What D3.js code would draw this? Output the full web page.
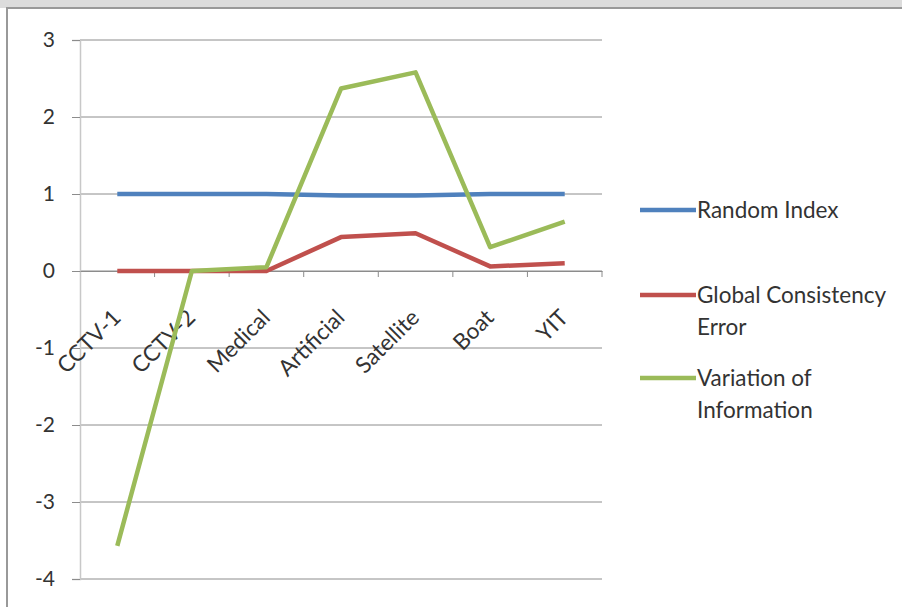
<!DOCTYPE html>
<html>
<head>
<meta charset="utf-8">
<script src="https://cdn.jsdelivr.net/npm/d3@7"></script>
<style>
  body { margin: 0; background: #fff; }
  svg text { font-family: Lato, "Open Sans", sans-serif; fill: #333; }
</style>
</head>
<body>
<div id="chart"></div>
<script>
// categories and series
var categories = ["CCTV-1", "CCTV-2", "Medical", "Artificial", "Satellite", "Boat", "YIT"];
var randomIndex = [1.0, 1.0, 1.0, 0.98, 0.98, 1.0, 1.0];
var globalError = [0.0, 0.0, 0.0, 0.44, 0.49, 0.06, 0.1];
var variationInfo = [-3.57, 0.0, 0.05, 2.37, 2.58, 0.31, 0.64];
var yTicks = [3, 2, 1, 0, -1, -2, -3, -4];

var seriesNames = ["Random Index", "Global Consistency Error", "Variation of Information"];
var legendLines = [["Random Index"], ["Global Consistency", "Error"], ["Variation of", "Information"]];
var colors = ["#4f81bd", "#c0504d", "#9bbb59"];

var width = 902, height = 607;
var margin = {top: 40, right: 300, bottom: 28, left: 80};

var svg = d3.select("#chart")
    .append("svg")
    .attr("width", width)
    .attr("height", height);

// gray strip and frame like the screenshot
svg.append("rect")
    .attr("x", 0).attr("y", 0)
    .attr("width", width).attr("height", 8)
    .attr("fill", "#dcdcdc");
svg.append("path")
    .attr("d", "M7," + height + "V8H" + width)
    .attr("fill", "none")
    .attr("stroke", "#999")
    .attr("stroke-width", 2);

var x = d3.scaleBand()
    .domain(categories)
    .range([margin.left, width - margin.right])
    .padding(0);

var y = d3.scaleLinear()
    .domain([-4, 3])
    .range([height - margin.bottom, margin.top]);

// horizontal gridlines
svg.append("g")
    .selectAll("line")
    .data(yTicks)
    .enter().append("line")
    .attr("x1", margin.left)
    .attr("x2", width - margin.right)
    .attr("y1", function(d) { return y(d); })
    .attr("y2", function(d) { return y(d); })
    .attr("stroke", "#8c8c8c")
    .attr("stroke-width", 1);

// y axis
var yAxis = d3.axisLeft(y)
    .tickValues(yTicks)
    .tickSize(8)
    .tickPadding(17)
    .tickFormat(function(d) { return String(d); });

var gy = svg.append("g")
    .attr("transform", "translate(" + margin.left + ",0)")
    .call(yAxis);
gy.select(".domain").attr("stroke", "#c8c8c8").attr("stroke-width", 1.5);
gy.selectAll(".tick line").attr("stroke", "#8c8c8c");
gy.selectAll("text")
    .style("font-size", "21px")
    .style("fill", "#333");

// x axis at zero
var xAxis = d3.axisBottom(x)
    .tickSize(0)
    .tickFormat("");

var gx = svg.append("g")
    .attr("transform", "translate(0," + y(0) + ")")
    .call(xAxis);
gx.select(".domain").attr("stroke", "#8c8c8c");

// boundary ticks between categories
var bounds = categories.map(function(c) { return x(c) + x.bandwidth(); });
gx.selectAll(".bound")
    .data(bounds)
    .enter().append("line")
    .attr("class", "bound")
    .attr("x1", function(d) { return d; })
    .attr("x2", function(d) { return d; })
    .attr("y1", 0)
    .attr("y2", 6)
    .attr("stroke", "#8c8c8c");

// rotated category labels
svg.append("g")
    .selectAll("text")
    .data(categories)
    .enter().append("text")
    .attr("transform", function(d) {
      return "translate(" + (x(d) + x.bandwidth() / 2 + 5) + "," + (y(0) + 48) + ") rotate(-45)";
    })
    .attr("text-anchor", "end")
    .style("font-size", "22.5px")
    .text(function(d) { return d; });

// lines
var allSeries = [randomIndex, globalError, variationInfo];
var line = d3.line()
    .x(function(d, i) { return x(categories[i]) + x.bandwidth() / 2; })
    .y(function(d) { return y(d); });

svg.append("g")
    .selectAll("path")
    .data(allSeries)
    .enter().append("path")
    .attr("d", function(d) { return line(d); })
    .attr("fill", "none")
    .attr("stroke", function(d, i) { return colors[i]; })
    .attr("stroke-width", 4.5)
    .attr("stroke-linejoin", "round");

// legend
var legendY = [210, 295, 378];
var lg = svg.append("g")
    .selectAll("g")
    .data(seriesNames)
    .enter().append("g")
    .attr("transform", function(d, i) { return "translate(640," + legendY[i] + ")"; });

lg.append("line")
    .attr("x1", 0).attr("x2", 56)
    .attr("y1", 0).attr("y2", 0)
    .attr("stroke", function(d, i) { return colors[i]; })
    .attr("stroke-width", 4.5);

lg.append("text")
    .attr("x", 57)
    .attr("y", 8)
    .style("font-size", "22.5px")
    .selectAll("tspan")
    .data(function(d, i) { return legendLines[i]; })
    .enter().append("tspan")
    .attr("x", 57)
    .attr("dy", function(d, j) { return j === 0 ? 0 : 32; })
    .text(function(d) { return d; });
</script>
</body>
</html>
